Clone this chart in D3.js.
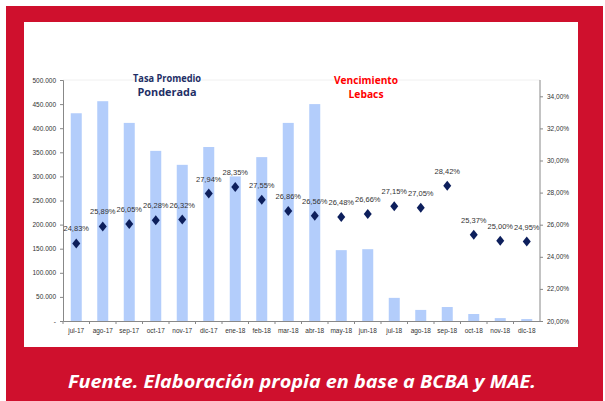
<!DOCTYPE html>
<html>
<head>
<meta charset="utf-8">
<script src="https://cdn.jsdelivr.net/npm/d3@7"></script>
<style>
  body { margin: 0; background: #fff; }
  .tick text { font-family: "Liberation Sans Narrow", "Liberation Sans", Arial, sans-serif; fill: #333; }
</style>
</head>
<body>
<div class="chart"></div>
<script>
var months = ["jul-17", "ago-17", "sep-17", "oct-17", "nov-17", "dic-17", "ene-18", "feb-18", "mar-18",
    "abr-18", "may-18", "jun-18", "jul-18", "ago-18", "sep-18", "oct-18", "nov-18", "dic-18"];
// Vencimiento Lebacs (millones)
var maturities = [431000, 456000, 411000, 353000, 324000, 361000, 300000, 340000, 411000,
    450000, 147000, 149000, 48000, 23000, 29000, 14500, 6000, 4000];
// Tasa promedio ponderada (%)
var rates = [24.83, 25.89, 26.05, 26.28, 26.32, 27.94, 28.35, 27.55, 26.86,
    26.56, 26.48, 26.66, 27.15, 27.05, 28.42, 25.37, 25.00, 24.95];
var leftTicks = [0, 50000, 100000, 150000, 200000, 250000, 300000, 350000, 400000, 450000, 500000];
var rightTicks = [20, 22, 24, 26, 28, 30, 32, 34];

var svgWidth = 605;
var svgHeight = 401;

var svg = d3.select(".chart")
    .append("svg")
    .attr("width", svgWidth)
    .attr("height", svgHeight);

// red frame + white panel
svg.append("rect")
    .attr("x", 6).attr("y", 6)
    .attr("width", 597).attr("height", 395)
    .attr("fill", "#cf102d");
svg.append("rect")
    .attr("x", 24).attr("y", 22)
    .attr("width", 554).attr("height", 325)
    .attr("fill", "#fff");

svg.append("text")
    .attr("x", 302).attr("y", 388)
    .attr("text-anchor", "middle")
    .attr("textLength", 468)
    .attr("lengthAdjust", "spacingAndGlyphs")
    .style("font-family", "'Open Sans', sans-serif")
    .style("font-weight", "bold")
    .style("font-style", "italic")
    .style("font-size", "18.5px")
    .attr("fill", "#fff")
    .text("Fuente. Elaboración propia en base a BCBA y MAE.");

var margin = { left: 63, right: 540, top: 80, bottom: 321 };

var xScale = d3.scaleBand()
    .domain(months)
    .range([margin.left, margin.right]);

var yLeft = d3.scaleLinear()
    .domain([0, 500000])
    .range([margin.bottom, margin.top]);

var yRight = d3.scaleLinear()
    .domain([20, 34])
    .range([margin.bottom, margin.bottom - 7 * 32.1]);

// faint top border of plot area
svg.append("line")
    .attr("x1", margin.left).attr("x2", margin.right)
    .attr("y1", margin.top).attr("y2", margin.top)
    .attr("stroke", "#f0f0f0");

// bars
svg.selectAll(".bar")
    .data(maturities)
    .enter()
    .append("rect")
    .attr("class", "bar")
    .attr("x", (d, i) => xScale(months[i]) + xScale.bandwidth() / 2 - 5.5)
    .attr("width", 11)
    .attr("y", d => yLeft(d))
    .attr("height", d => margin.bottom - yLeft(d))
    .attr("fill", "#b3cdfb");

var fmtThousands = d3.formatLocale({ decimal: ",", thousands: ".", grouping: [3], currency: ["$", ""] }).format(",.0f");
var fmtPct = d => d.toFixed(2).replace(".", ",") + "%";

// left axis
var leftAxis = d3.axisLeft(yLeft)
    .tickValues(leftTicks)
    .tickSize(3)
    .tickFormat(d => d === 0 ? "-" : fmtThousands(d));
var gl = svg.append("g")
    .attr("transform", `translate(${margin.left},0)`)
    .call(leftAxis);
gl.select(".domain").attr("stroke", "#888");
gl.selectAll(".tick line").attr("stroke", "#888");
gl.selectAll(".tick text").style("font-size", "6.5px").attr("x", -7);

// right axis
var rightAxis = d3.axisRight(yRight)
    .tickValues(rightTicks)
    .tickSize(3)
    .tickFormat(fmtPct);
var gr = svg.append("g")
    .attr("transform", `translate(${margin.right},0)`)
    .call(rightAxis);
gr.select(".domain").attr("d", `M0,${margin.top}V${margin.bottom}`).attr("stroke", "#888");
gr.selectAll(".tick line").attr("stroke", "#888");
gr.selectAll(".tick text").style("font-size", "6.5px").attr("x", 7);

// bottom axis
var bottomAxis = d3.axisBottom(xScale).tickSize(0);
var gb = svg.append("g")
    .attr("transform", `translate(0,${margin.bottom})`)
    .call(bottomAxis);
gb.select(".domain").attr("stroke", "#888");
gb.selectAll(".tick text").style("font-size", "6.5px").attr("y", 7);
gb.selectAll(".sep")
    .data(months)
    .enter()
    .append("line")
    .attr("x1", d => xScale(d)).attr("x2", d => xScale(d))
    .attr("y1", 0).attr("y2", 3)
    .attr("stroke", "#888");

// diamonds
svg.selectAll(".pt")
    .data(rates)
    .enter()
    .append("path")
    .attr("class", "pt")
    .attr("d", "M0,-5L4,0L0,5L-4,0Z")
    .attr("transform", (d, i) => `translate(${xScale(months[i]) + xScale.bandwidth() / 2},${yRight(d)})`)
    .attr("fill", "#0d1f5c");

svg.selectAll(".lbl")
    .data(rates)
    .enter()
    .append("text")
    .attr("class", "lbl")
    .attr("x", (d, i) => xScale(months[i]) + xScale.bandwidth() / 2)
    .attr("y", d => yRight(d) - 12)
    .attr("text-anchor", "middle")
    .style("font-family", "'Liberation Sans Narrow', 'Liberation Sans', sans-serif")
    .style("font-size", "7.5px")
    .attr("fill", "#333")
    .text(fmtPct);

// annotations (line text, width in px)
var notes = [
    { lines: [["Tasa Promedio", 68], ["Ponderada", 59]], x: 167, y: 82, color: "#1f2f66" },
    { lines: [["Vencimiento", 64], ["Lebacs", 35]], x: 366, y: 84, color: "#ff0000" }
];
notes.forEach(function (n) {
    n.lines.forEach(function (l, i) {
        svg.append("text")
            .attr("text-anchor", "middle")
            .attr("x", n.x).attr("y", n.y + i * 14)
            .attr("textLength", l[1])
            .attr("lengthAdjust", "spacingAndGlyphs")
            .style("font-family", "'Open Sans', sans-serif")
            .style("font-weight", "bold")
            .style("font-size", "10.5px")
            .attr("fill", n.color)
            .text(l[0]);
    });
});
</script>
</body>
</html>
